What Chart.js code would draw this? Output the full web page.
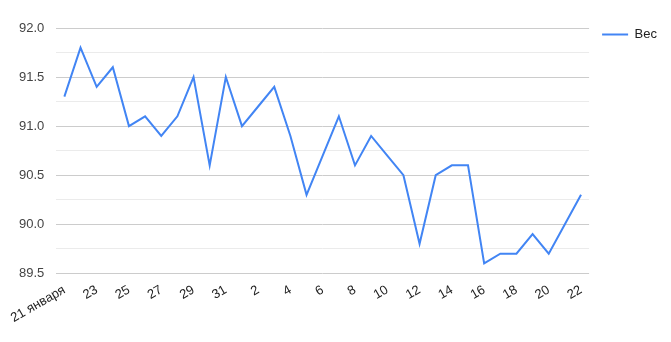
<!DOCTYPE html>
<html>
<head>
<meta charset="utf-8">
<script src="https://cdn.jsdelivr.net/npm/chart.js@4"></script>
<style>
  html, body { margin: 0; padding: 0; background: #fff; }
  #wrap { position: relative; width: 671px; height: 342px; }
</style>
</head>
<body>
<div id="wrap"><canvas id="chart"></canvas></div>
<script>
// dates 21 Jan .. 22 Feb, one reading per day
const days = [
    '21 января', '22', '23', '24', '25', '26', '27', '28', '29', '30', '31',
    '1', '2', '3', '4', '5', '6', '7', '8', '9', '10', '11',
    '12', '13', '14', '15', '16', '17', '18', '19', '20', '21', '22'
];
const weight = [
    91.3, 91.8, 91.4, 91.6, 91.0, 91.1, 90.9, 91.1, 91.5, 90.6, 91.5,
    91.0, 91.2, 91.4, 90.9, 90.3, 90.7, 91.1, 90.6, 90.9, 90.7, 90.5,
    89.8, 90.5, 90.6, 90.6, 89.6, 89.7, 89.7, 89.9, 89.7, 90.0, 90.3
];
const seriesName = 'Вес';
const yMin = 89.5;
const yMax = 92.0;

const font = { family: 'Liberation Sans, Arial, sans-serif', size: 13 };

new Chart(document.getElementById('chart'), {
    type: 'line',
    data: {
        labels: days,
        datasets: [{
            label: seriesName,
            data: weight,
            borderColor: '#4285f4',
            backgroundColor: '#4285f4',
            borderWidth: 2,
            pointRadius: 0,
            tension: 0
        }]
    },
    options: {
        responsive: true,
        maintainAspectRatio: false,
        animation: false,
        layout: { padding: { top: 28, right: 4, bottom: 15, left: 7 } },
        plugins: {
            legend: {
                position: 'right',
                align: 'start',
                labels: {
                    usePointStyle: true,
                    pointStyle: 'line',
                    pointStyleWidth: 26,
                    color: '#222',
                    font: font,
                    padding: 0
                }
            },
            tooltip: { enabled: false }
        },
        scales: {
            x: {
                offset: true,
                grid: { display: false },
                border: { display: false },
                ticks: {
                    autoSkip: false,
                    minRotation: 30,
                    maxRotation: 30,
                    color: '#222',
                    font: font,
                    padding: 1,
                    callback: (v, i) => i % 2 === 0 ? days[i] : ''
                }
            },
            y: {
                min: yMin,
                max: yMax,
                grid: {
                    drawTicks: false,
                    color: ctx => (ctx.tick && ctx.tick.value % 0.5 === 0) ? '#cccccc' : '#ebebeb'
                },
                border: { display: false },
                ticks: {
                    stepSize: 0.25,
                    color: '#444',
                    font: font,
                    padding: 12,
                    callback: v => v % 0.5 === 0 ? v.toFixed(1) : ''
                }
            },
            // empty right axis: only keeps a gap between plot and legend
            gap: {
                position: 'right',
                grid: { display: false },
                border: { display: false },
                ticks: { display: false },
                afterFit: scale => { scale.width = 13; }
            }
        }
    }
});
</script>
</body>
</html>
